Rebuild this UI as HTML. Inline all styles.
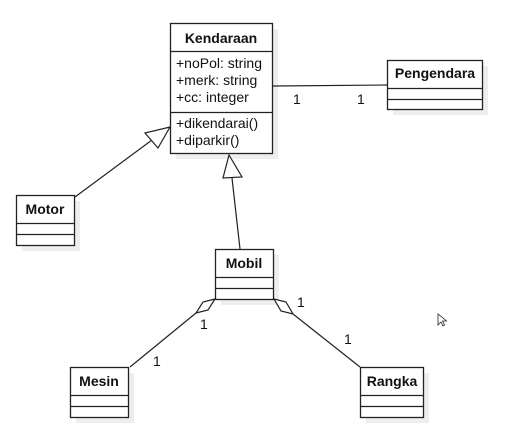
<!DOCTYPE html>
<html><head><style>
body{margin:0;background:#fff;width:512px;height:436px;overflow:hidden}
svg text{font-family:"Liberation Sans",sans-serif;font-size:14px;fill:#111}
.b{font-weight:bold}
</style></head><body>
<svg width="512" height="436" xmlns="http://www.w3.org/2000/svg">
<g fill="#eee">
<rect x="176" y="29" width="102" height="130"/>
<rect x="393" y="66" width="95" height="49"/>
<rect x="22" y="201" width="58" height="50"/>
<rect x="221" y="255" width="58" height="50"/>
<rect x="76" y="373" width="58" height="50"/>
<rect x="366" y="373" width="63" height="50"/>
</g>
<g fill="#fff" stroke="#222" stroke-width="1.3">
<rect x="170.5" y="23.5" width="102" height="130"/>
<line x1="170" y1="51.5" x2="272" y2="51.5"/>
<line x1="170" y1="112.5" x2="272" y2="112.5"/>
<rect x="387.5" y="60.5" width="95" height="49"/>
<line x1="387" y1="88.5" x2="482" y2="88.5"/>
<line x1="387" y1="99.5" x2="482" y2="99.5"/>
<rect x="16.5" y="195.5" width="58" height="50"/>
<line x1="16" y1="223.5" x2="74" y2="223.5"/>
<line x1="16" y1="234.5" x2="74" y2="234.5"/>
<rect x="215.5" y="249.5" width="58" height="50"/>
<line x1="215" y1="277.5" x2="273" y2="277.5"/>
<line x1="215" y1="288.5" x2="273" y2="288.5"/>
<rect x="70.5" y="367.5" width="58" height="50"/>
<line x1="70" y1="395.5" x2="128" y2="395.5"/>
<line x1="70" y1="406.5" x2="128" y2="406.5"/>
<rect x="360.5" y="367.5" width="63" height="50"/>
<line x1="360" y1="395.5" x2="423" y2="395.5"/>
<line x1="360" y1="406.5" x2="423" y2="406.5"/>
</g>
<g stroke="#222" stroke-width="1.2" fill="none">
<line x1="273" y1="86" x2="387" y2="85"/>
<line x1="75" y1="197" x2="152" y2="140"/>
<polygon points="170,127 145,133 158,148" fill="#fff"/>
<line x1="232" y1="178" x2="240" y2="249"/>
<polygon points="229,155 223,178 242,177" fill="#fff"/>
<polygon points="215,299 203,302 196,313 208,310" fill="#fff"/>
<line x1="196" y1="313" x2="130" y2="367"/>
<polygon points="274,299 286,302 293,314 281,311" fill="#fff"/>
<line x1="293" y1="314" x2="360" y2="367"/>
<path d="M438,314 v11 l3,-3 l2,4 l1.5,-1 l-2,-4 h4 z" stroke-width="0.8"/>
</g>
<text class="b" x="221" y="43" text-anchor="middle">Kendaraan</text>
<text x="176" y="68">+noPol: string</text>
<text x="176" y="85">+merk: string</text>
<text x="176" y="102">+cc: integer</text>
<text x="176" y="128">+dikendarai()</text>
<text x="176" y="145">+diparkir()</text>
<text class="b" x="435" y="78" text-anchor="middle">Pengendara</text>
<text class="b" x="45" y="214" text-anchor="middle">Motor</text>
<text class="b" x="244" y="268" text-anchor="middle">Mobil</text>
<text class="b" x="99" y="386" text-anchor="middle">Mesin</text>
<text class="b" x="392" y="386" text-anchor="middle">Rangka</text>
<text x="293" y="104">1</text>
<text x="357" y="104">1</text>
<text x="200" y="329">1</text>
<text x="153" y="366">1</text>
<text x="297" y="307">1</text>
<text x="344" y="344">1</text>
</svg>
</body></html>
